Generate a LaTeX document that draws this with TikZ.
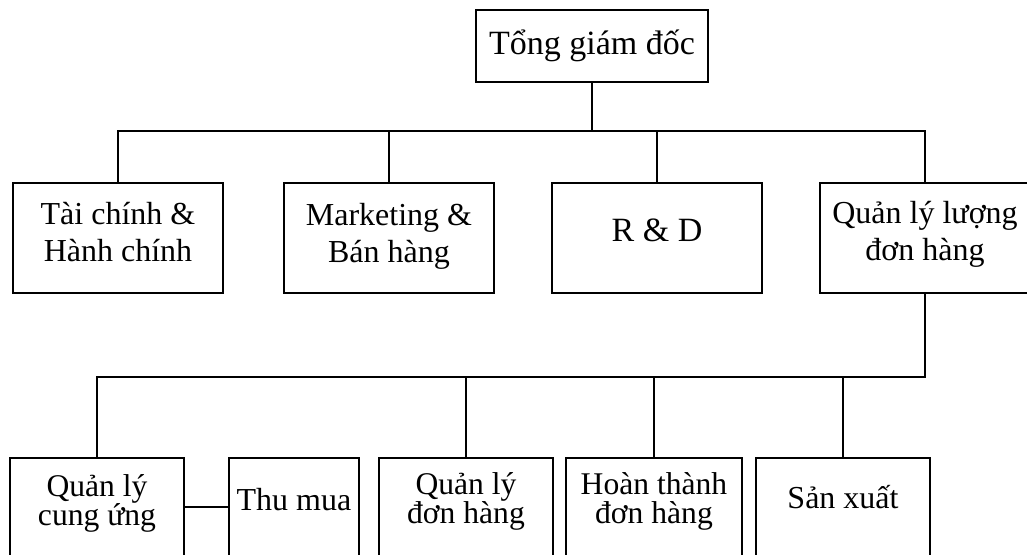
\documentclass[tikz,border=0pt]{standalone}
\usepackage{fontspec}
\setmainfont{Liberation Serif}

\begin{document}
\begin{tikzpicture}[
  x=0.5pt, y=-0.5pt,
  every node/.style={font=\fontsize{16}{18.5}\selectfont},
  box/.style={draw, line width=1pt, inner sep=0pt},
  head/.style={box, minimum width=116pt, minimum height=36pt},
  dept/.style={box, minimum width=105pt, minimum height=55pt},
  sect/.style={box, minimum height=49pt},
  lbl/.style={anchor=base, align=center, inner sep=0pt},
  big/.style={font=\fontsize{17}{20}\selectfont},
  tight/.style={font=\fontsize{15.8}{18}\selectfont},
  link/.style={line width=0.9pt}
]
\useasboundingbox (0,0) rectangle (1027,554);

% director
\node[head] (ceo) at (592,46) {};
\node[lbl,big] (ceo-t) at (592,54) {Tổng giám đốc};

% departments (text sits on the baseline of its last line)
\node[dept] (fin) at (118,238) {};
\node[dept] (mkt) at (389,238) {};
\node[dept] (rnd) at (657,238) {};
\node[dept] (ord) at (925,238) {};
\node[lbl] (fin-t) at (118,261) {Tài chính \&\\Hành chính};
\node[lbl] (mkt-t) at (389,262) {Marketing \&\\Bán hàng};
\node[lbl,big] (rnd-t) at (657,241) {R \& D};
\node[lbl] (ord-t) at (925,260) {Quản lý lượng\\đơn hàng};

% sections under order management
\node[sect, minimum width=87pt] (sup) at (97,507) {};
\node[sect, minimum width=65pt] (buy) at (294,507) {};
\node[sect, minimum width=87pt] (omg) at (466,507) {};
\node[sect, minimum width=88pt] (ful) at (654,507) {};
\node[sect, minimum width=87pt] (prd) at (843,507) {};
\node[lbl,tight] (sup-t) at (97,525) {Quản lý\\[-3.5pt]cung ứng};
\node[lbl] (buy-t) at (294,510) {Thu mua};
\node[lbl,tight] (omg-t) at (466,523) {Quản lý\\[-3.5pt]đơn hàng};
\node[lbl,tight] (ful-t) at (654,523) {Hoàn thành\\[-3.5pt]đơn hàng};
\node[lbl] (prd-t) at (843,508) {Sản xuất};

% links
\coordinate (bus1) at (592,131);
\coordinate (bus2) at (925,377);
\draw[link] (ceo) -- (bus1);
\draw[link] (fin) |- (bus1) -| (ord);
\draw[link] (mkt) -- (mkt |- bus1);
\draw[link] (rnd) -- (rnd |- bus1);
\draw[link] (ord) -- (bus2) -| (sup);
\draw[link] (omg) -- (omg |- bus2);
\draw[link] (ful) -- (ful |- bus2);
\draw[link] (prd) -- (prd |- bus2);
\draw[link] (sup) -- (buy);
\end{tikzpicture}
\end{document}
